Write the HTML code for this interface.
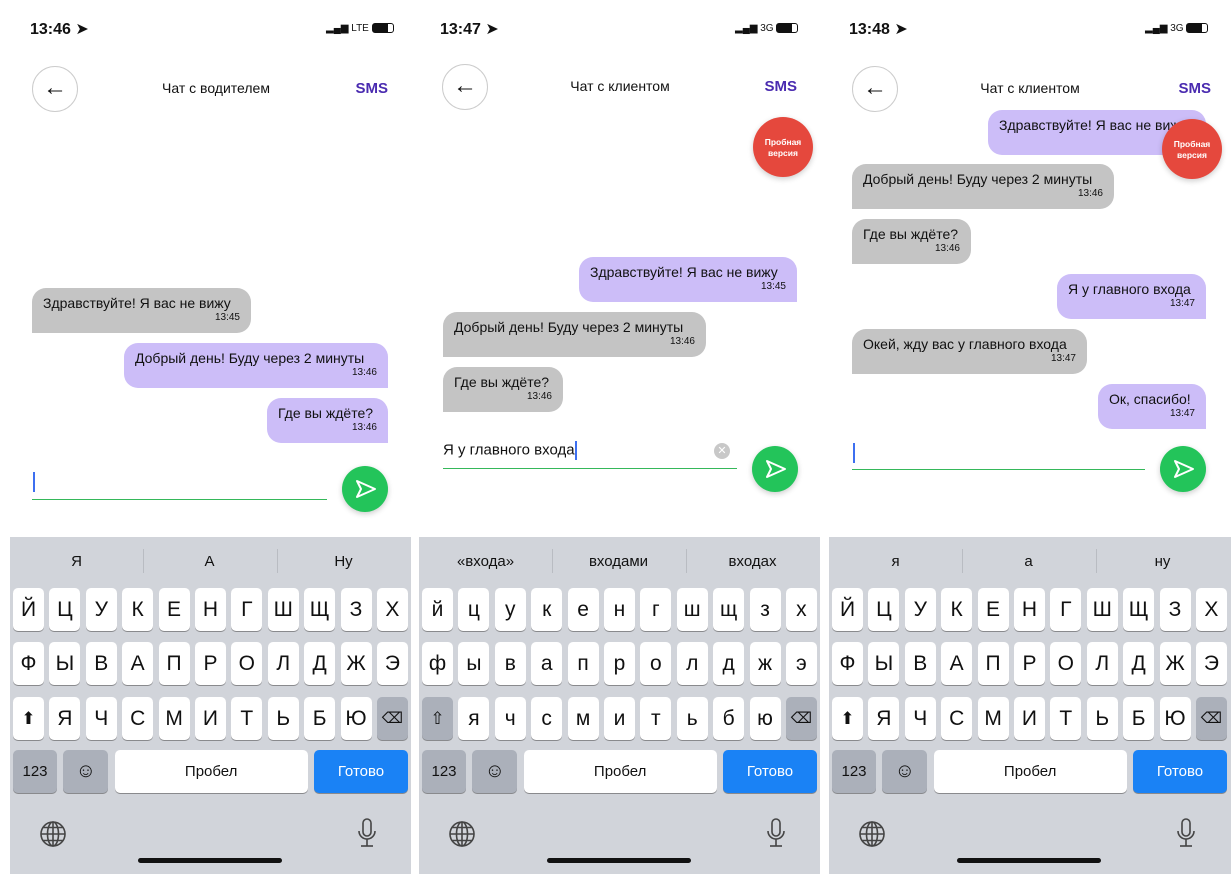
<!DOCTYPE html>
<html><head><meta charset="utf-8"><style>
*{margin:0;padding:0;box-sizing:border-box}
body{width:1232px;height:874px;background:#fff;position:relative;overflow:hidden;font-family:"Liberation Sans","DejaVu Sans",sans-serif;color:#111}
.p{position:absolute;top:0;width:410px;height:874px}
.a{position:absolute}
.time{left:30px;top:19px;font-size:16px;font-weight:bold}
.back{left:32px;top:66px;width:46px;height:46px;border:1px solid #ccc;border-radius:50%;font-size:24px;text-align:center;line-height:42px}
.title{top:80px;font-size:14px;width:410px;text-align:center;left:0}
.sms{right:22px;top:80px;font-size:15px;font-weight:bold;color:#4a2bb0}
.b{position:absolute;padding:6px 11px 0 11px;height:45px;border-radius:14px;font-size:14px;line-height:18px;white-space:nowrap}
.b i{display:block;font-style:normal;font-size:10px;text-align:right;line-height:11px}
.g{background:#c4c4c4;border-bottom-left-radius:0}
.v{background:#ccbdf8;border-bottom-right-radius:0}
.send{width:46px;height:46px;border-radius:50%;background:#23c45a;box-shadow:0 2px 6px rgba(0,0,0,.2)}
.line{height:1px;background:#35b85a}
.red{width:60px;height:60px;border-radius:50%;background:#e5483d;color:#fff;font-size:8.5px;font-weight:bold;text-align:center;padding-top:20px;line-height:11px;box-shadow:0 2px 6px rgba(0,0,0,.2)}
.kb{left:10px;top:537px;width:401px;height:337px;background:#d1d4da}
.sug{top:16px;font-size:15px;width:133px;text-align:center}
.sep{top:12px;width:1px;height:24px;background:#b9bcc2}
.row{position:absolute;left:3px;width:395px;display:flex;justify-content:space-between}
.k{width:31px;height:43px;background:#fff;border-radius:5px;box-shadow:0 1px 0 #898a8d;font-size:21px;text-align:center;line-height:43px}
.dk{background:#abb0ba}
.bar{left:128px;top:321px;width:144px;height:5px;border-radius:3px;background:#111}
</style></head><body>

<!-- Panel 1 -->
<div class="p" style="left:0">
<div class="a time">13:46 ➤</div>
<div class="a" style="left:326px;top:23px;font-size:10px">▂▄▆ LTE <span style="display:inline-block;width:22px;height:10px;border:1px solid #111;border-radius:3px;vertical-align:middle;background:linear-gradient(90deg,#111 75%,#fff 75%)"></span></div>
<div class="a back">←</div>
<div class="a title" style="left:11px">Чат с водителем</div>
<div class="a sms">SMS</div>
<div class="b g" style="left:32px;top:288px;width:219px">Здравствуйте! Я вас не вижу<i>13:45</i></div>
<div class="b v" style="left:124px;top:343px;width:264px">Добрый день! Буду через 2 минуты<i>13:46</i></div>
<div class="b v" style="left:267px;top:398px;width:121px">Где вы ждёте?<i>13:46</i></div>
<div class="a" style="left:33px;top:472px;width:2px;height:20px;background:#3d6ff0"></div>
<div class="a line" style="left:32px;top:499px;width:295px"></div>
<div class="a send" style="left:342px;top:466px"><svg width="46" height="46"><path d="M15 15 L33 23 L15 31 L19 23 Z" fill="none" stroke="#fff" stroke-width="2" stroke-linejoin="round"/></svg></div>
<div class="a kb">
<div class="a sug" style="left:0">Я</div><div class="a sep" style="left:133px"></div>
<div class="a sug" style="left:133px">А</div><div class="a sep" style="left:267px"></div>
<div class="a sug" style="left:267px">Ну</div>
<div class="row" style="top:51px"><div class="k">Й</div><div class="k">Ц</div><div class="k">У</div><div class="k">К</div><div class="k">Е</div><div class="k">Н</div><div class="k">Г</div><div class="k">Ш</div><div class="k">Щ</div><div class="k">З</div><div class="k">Х</div></div>
<div class="row" style="top:105px"><div class="k">Ф</div><div class="k">Ы</div><div class="k">В</div><div class="k">А</div><div class="k">П</div><div class="k">Р</div><div class="k">О</div><div class="k">Л</div><div class="k">Д</div><div class="k">Ж</div><div class="k">Э</div></div>
<div class="row" style="top:160px"><div class="k" style="font-size:17px">⬆</div><div class="k">Я</div><div class="k">Ч</div><div class="k">С</div><div class="k">М</div><div class="k">И</div><div class="k">Т</div><div class="k">Ь</div><div class="k">Б</div><div class="k">Ю</div><div class="k dk" style="font-size:15px">⌫</div></div>
<div class="row" style="top:213px"><div class="k dk" style="width:44px;font-size:15px">123</div><div class="k dk" style="width:45px;font-size:20px">☺</div><div class="k" style="width:193px;font-size:15px">Пробел</div><div class="k" style="width:94px;font-size:15px;background:#1a82f5;color:#fff">Готово</div></div>
<svg class="a" style="left:29px;top:283px" width="28" height="28" viewBox="0 0 28 28"><g fill="none" stroke="#444" stroke-width="1.6"><circle cx="14" cy="14" r="12"/><ellipse cx="14" cy="14" rx="5.5" ry="12"/><line x1="14" y1="2" x2="14" y2="26"/><line x1="2" y1="14" x2="26" y2="14"/><path d="M4.5 7.5 H23.5 M4.5 20.5 H23.5"/></g></svg>
<svg class="a" style="left:347px;top:280px" width="20" height="32" viewBox="0 0 20 32"><g fill="none" stroke="#444" stroke-width="1.6"><rect x="6" y="2" width="8" height="17" rx="4"/><path d="M2 14 a8 8 0 0 0 16 0"/><line x1="10" y1="22" x2="10" y2="29"/><line x1="4" y1="29" x2="16" y2="29"/></g></svg>
<div class="a bar"></div>
</div>
</div>

<!-- Panel 2 -->
<div class="p" style="left:409px">
<div class="a time" style="left:31px">13:47 ➤</div>
<div class="a" style="left:326px;top:23px;font-size:10px">▂▄▆ 3G <span style="display:inline-block;width:22px;height:10px;border:1px solid #111;border-radius:3px;vertical-align:middle;background:linear-gradient(90deg,#111 75%,#fff 75%)"></span></div>
<div class="a back" style="left:33px;top:64px">←</div>
<div class="a title" style="top:78px;left:6px">Чат с клиентом</div>
<div class="a sms" style="top:78px">SMS</div>
<div class="a red" style="left:344px;top:117px">Пробная<br>версия</div>
<div class="b v" style="left:170px;top:257px;width:218px">Здравствуйте! Я вас не вижу<i>13:45</i></div>
<div class="b g" style="left:34px;top:312px;width:263px">Добрый день! Буду через 2 минуты<i>13:46</i></div>
<div class="b g" style="left:34px;top:367px;width:120px">Где вы ждёте?<i>13:46</i></div>
<div class="a" style="left:34px;top:441px;font-size:15px">Я у главного входа<span style="display:inline-block;width:2px;height:19px;background:#3d6ff0;vertical-align:middle"></span></div>
<div class="a" style="left:305px;top:443px;width:16px;height:16px;border-radius:50%;background:#c8c8c8;color:#fff;font-size:11px;text-align:center;line-height:16px">✕</div>
<div class="a line" style="left:34px;top:468px;width:294px"></div>
<div class="a send" style="left:343px;top:446px"><svg width="46" height="46"><path d="M15 15 L33 23 L15 31 L19 23 Z" fill="none" stroke="#fff" stroke-width="2" stroke-linejoin="round"/></svg></div>
<div class="a kb">
<div class="a sug" style="left:0">«входа»</div><div class="a sep" style="left:133px"></div>
<div class="a sug" style="left:133px">входами</div><div class="a sep" style="left:267px"></div>
<div class="a sug" style="left:267px">входах</div>
<div class="row" style="top:51px"><div class="k">й</div><div class="k">ц</div><div class="k">у</div><div class="k">к</div><div class="k">е</div><div class="k">н</div><div class="k">г</div><div class="k">ш</div><div class="k">щ</div><div class="k">з</div><div class="k">х</div></div>
<div class="row" style="top:105px"><div class="k">ф</div><div class="k">ы</div><div class="k">в</div><div class="k">а</div><div class="k">п</div><div class="k">р</div><div class="k">о</div><div class="k">л</div><div class="k">д</div><div class="k">ж</div><div class="k">э</div></div>
<div class="row" style="top:160px"><div class="k dk" style="font-size:17px">⇧</div><div class="k">я</div><div class="k">ч</div><div class="k">с</div><div class="k">м</div><div class="k">и</div><div class="k">т</div><div class="k">ь</div><div class="k">б</div><div class="k">ю</div><div class="k dk" style="font-size:15px">⌫</div></div>
<div class="row" style="top:213px"><div class="k dk" style="width:44px;font-size:15px">123</div><div class="k dk" style="width:45px;font-size:20px">☺</div><div class="k" style="width:193px;font-size:15px">Пробел</div><div class="k" style="width:94px;font-size:15px;background:#1a82f5;color:#fff">Готово</div></div>
<svg class="a" style="left:29px;top:283px" width="28" height="28" viewBox="0 0 28 28"><g fill="none" stroke="#444" stroke-width="1.6"><circle cx="14" cy="14" r="12"/><ellipse cx="14" cy="14" rx="5.5" ry="12"/><line x1="14" y1="2" x2="14" y2="26"/><line x1="2" y1="14" x2="26" y2="14"/><path d="M4.5 7.5 H23.5 M4.5 20.5 H23.5"/></g></svg>
<svg class="a" style="left:347px;top:280px" width="20" height="32" viewBox="0 0 20 32"><g fill="none" stroke="#444" stroke-width="1.6"><rect x="6" y="2" width="8" height="17" rx="4"/><path d="M2 14 a8 8 0 0 0 16 0"/><line x1="10" y1="22" x2="10" y2="29"/><line x1="4" y1="29" x2="16" y2="29"/></g></svg>
<div class="a bar"></div>
</div>
</div>

<!-- Panel 3 -->
<div class="p" style="left:819px">
<div class="a time">13:48 ➤</div>
<div class="a" style="left:326px;top:23px;font-size:10px">▂▄▆ 3G <span style="display:inline-block;width:22px;height:10px;border:1px solid #111;border-radius:3px;vertical-align:middle;background:linear-gradient(90deg,#111 75%,#fff 75%)"></span></div>
<div class="a back" style="left:33px">←</div>
<div class="a title" style="left:6px">Чат с клиентом</div>
<div class="a sms" style="right:18px">SMS</div>
<div class="b v" style="left:169px;top:110px;width:218px">Здравствуйте! Я вас не вижу</div>
<div class="a red" style="left:343px;top:119px">Пробная<br>версия</div>
<div class="b g" style="left:33px;top:164px;width:262px">Добрый день! Буду через 2 минуты<i>13:46</i></div>
<div class="b g" style="left:33px;top:219px;width:119px">Где вы ждёте?<i>13:46</i></div>
<div class="b v" style="left:238px;top:274px;width:149px">Я у главного входа<i>13:47</i></div>
<div class="b g" style="left:33px;top:329px;width:235px">Окей, жду вас у главного входа<i>13:47</i></div>
<div class="b v" style="left:279px;top:384px;width:108px">Ок, спасибо!<i>13:47</i></div>
<div class="a" style="left:34px;top:443px;width:2px;height:20px;background:#3d6ff0"></div>
<div class="a line" style="left:33px;top:469px;width:293px"></div>
<div class="a send" style="left:341px;top:446px"><svg width="46" height="46"><path d="M15 15 L33 23 L15 31 L19 23 Z" fill="none" stroke="#fff" stroke-width="2" stroke-linejoin="round"/></svg></div>
<div class="a kb" style="width:402px">
<div class="a sug" style="left:0">я</div><div class="a sep" style="left:133px"></div>
<div class="a sug" style="left:133px">а</div><div class="a sep" style="left:267px"></div>
<div class="a sug" style="left:267px">ну</div>
<div class="row" style="top:51px"><div class="k">Й</div><div class="k">Ц</div><div class="k">У</div><div class="k">К</div><div class="k">Е</div><div class="k">Н</div><div class="k">Г</div><div class="k">Ш</div><div class="k">Щ</div><div class="k">З</div><div class="k">Х</div></div>
<div class="row" style="top:105px"><div class="k">Ф</div><div class="k">Ы</div><div class="k">В</div><div class="k">А</div><div class="k">П</div><div class="k">Р</div><div class="k">О</div><div class="k">Л</div><div class="k">Д</div><div class="k">Ж</div><div class="k">Э</div></div>
<div class="row" style="top:160px"><div class="k" style="font-size:17px">⬆</div><div class="k">Я</div><div class="k">Ч</div><div class="k">С</div><div class="k">М</div><div class="k">И</div><div class="k">Т</div><div class="k">Ь</div><div class="k">Б</div><div class="k">Ю</div><div class="k dk" style="font-size:15px">⌫</div></div>
<div class="row" style="top:213px"><div class="k dk" style="width:44px;font-size:15px">123</div><div class="k dk" style="width:45px;font-size:20px">☺</div><div class="k" style="width:193px;font-size:15px">Пробел</div><div class="k" style="width:94px;font-size:15px;background:#1a82f5;color:#fff">Готово</div></div>
<svg class="a" style="left:29px;top:283px" width="28" height="28" viewBox="0 0 28 28"><g fill="none" stroke="#444" stroke-width="1.6"><circle cx="14" cy="14" r="12"/><ellipse cx="14" cy="14" rx="5.5" ry="12"/><line x1="14" y1="2" x2="14" y2="26"/><line x1="2" y1="14" x2="26" y2="14"/><path d="M4.5 7.5 H23.5 M4.5 20.5 H23.5"/></g></svg>
<svg class="a" style="left:347px;top:280px" width="20" height="32" viewBox="0 0 20 32"><g fill="none" stroke="#444" stroke-width="1.6"><rect x="6" y="2" width="8" height="17" rx="4"/><path d="M2 14 a8 8 0 0 0 16 0"/><line x1="10" y1="22" x2="10" y2="29"/><line x1="4" y1="29" x2="16" y2="29"/></g></svg>
<div class="a bar"></div>
</div>
</div>
</body></html>
